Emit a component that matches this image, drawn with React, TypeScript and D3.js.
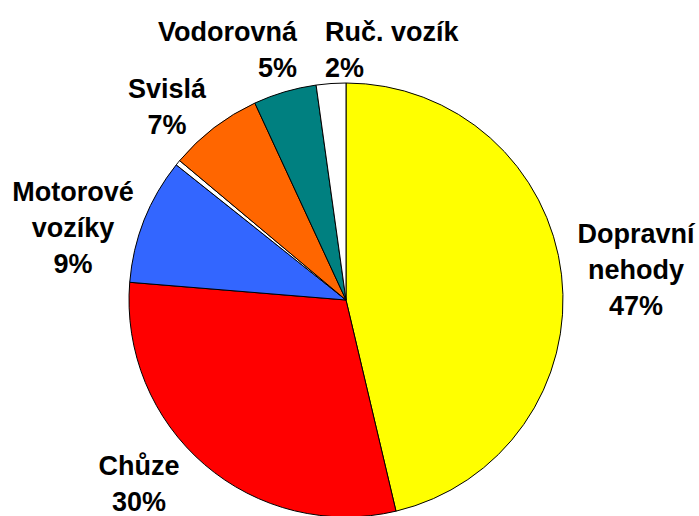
import { useEffect, useRef } from 'react';
import * as d3 from 'd3';

// categories clockwise from 12 o'clock
const categories = ['Dopravní nehody', 'Chůze', 'Motorové vozíky', 'Ostatní', 'Svislá', 'Vodorovná', 'Ruč. vozík'];
const shares = [46.3, 30.0, 9.4, 0.4, 7.0, 4.7, 2.2];
const labelLines = [
    ['Dopravní', 'nehody', '47%'],
    ['Chůze', '30%'],
    ['Motorové', 'vozíky', '9%'],
    [],
    ['Svislá', '7%'],
    ['Vodorovná', '5%'],
    ['Ruč. vozík', '2%'],
];
const sliceColors = ['#FFFF00', '#FF0000', '#3366FF', '#FFFFFF', '#FF6600', '#008080', '#FFFFFF'];

// label placement (x, first baseline, anchor)
const labelPos: [number, number, string][] = [
    [636, 243, 'middle'],
    [139, 475, 'middle'],
    [73, 201, 'middle'],
    [0, 0, 'middle'],
    [167, 98, 'middle'],
    [297, 41, 'end'],
    [325, 41, 'start'],
];

const W = 699, H = 516;

const App = () => {
    const svgRef = useRef<SVGSVGElement>(null);

    useEffect(() => {
        document.body.style.margin = '0';
        const svg = d3.select(svgRef.current);
        svg.selectAll('*').remove();

        const cx = 346, cy = 300, r = 217;
        const data = categories.map((name, i) => ({ name, value: shares[i], i }));

        const pie = d3.pie<any>().value(d => d.value).sort(null);
        const arc = d3.arc<any>().innerRadius(0).outerRadius(r);

        const g = svg.append('g').attr('transform', `translate(${cx},${cy})`);
        g.selectAll('path')
            .data(pie(data))
            .enter()
            .append('path')
            .attr('d', arc)
            .attr('fill', d => sliceColors[d.data.i])
            .attr('stroke', '#000')
            .attr('stroke-width', 1);

        // labels
        const lh = 36;
        data.forEach((d, i) => {
            const [x, y, anchor] = labelPos[i];
            const t = svg.append('text')
                .attr('text-anchor', anchor)
                .style('font-family', '"Liberation Sans", Arial, sans-serif')
                .style('font-weight', 'bold')
                .style('font-size', '27px')
                .attr('fill', '#000');
            labelLines[i].forEach((line, j) => {
                t.append('tspan').attr('x', x).attr('y', y + j * lh).text(line);
            });
        });
    }, []);

    return <svg ref={svgRef} width={W} height={H} style={{ display: 'block', background: '#fff' }}></svg>;
};

export default App;
